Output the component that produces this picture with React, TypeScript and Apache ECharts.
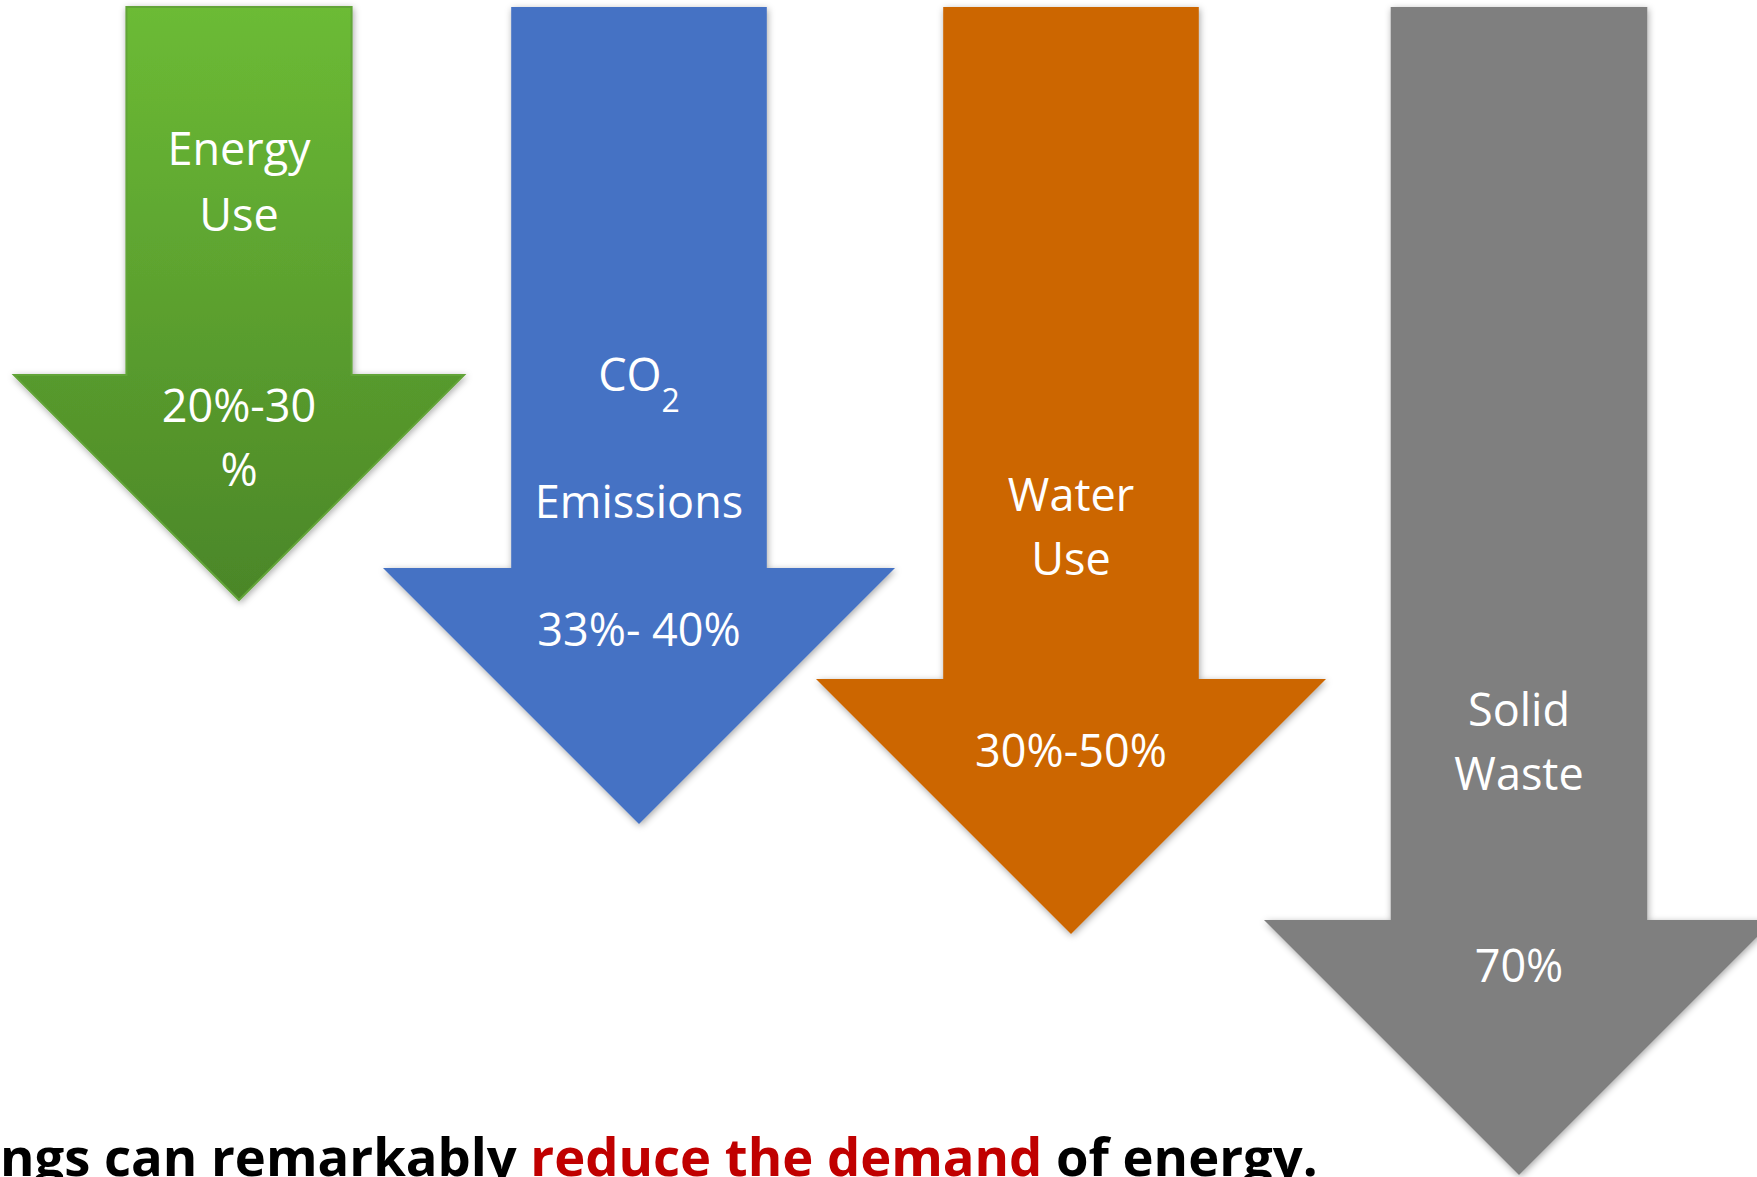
import { useEffect, useRef } from "react";
import * as echarts from "echarts";

const PAGE_W = 1757;
const PAGE_H = 1177;

// What each arrow stands for and how much it drops
const measures = ["Energy Use", "CO2 Emissions", "Water Use", "Solid Waste"];
const titleLines = [["Energy", "Use"], ["CO{sub|2}", "Emissions"], ["Water", "Use"], ["Solid", "Waste"]];
const savingLines = [["20%-30", "%"], ["33%- 40%"], ["30%-50%"], ["70%"]];
// how far down the page each arrow reaches (y-axis units, axis runs top to bottom)
const arrowReach = [600, 824, 934, 1175];

const captionPlain1 = "ngs can remarkably ";
const captionRed = "reduce the demand";
const captionPlain2 = " of energy.";

// Layout of the arrows on the value axes
const arrowCenter = [239, 639, 1071, 1519];
const shaftTop = 7;
const shaftHalf = [112.6, 127.8, 127.8, 128.3];
const headTop = [375, 568, 679, 920];
const titleY = [[148, 214], [374.5, 501.6], [494, 558], [709, 773]];
const savingY = [[405, 469], [629.5], [750], [965]];

const LABEL_FONT = '"Open Sans", "Noto Sans", sans-serif';
const LABEL_SIZE = 45;

const arrowFills: any[] = [
  new echarts.graphic.LinearGradient(0, 0, 0, 1, [
    { offset: 0, color: "#6CBB35" },
    { offset: 1, color: "#4B8628" },
  ]),
  "#4472C4",
  "#CC6600",
  "#7F7F7F",
];
const arrowStrokes = ["#62A438", "#4472C4", "#CC6600", "#7F7F7F"];

function captionFontSize(targetWidth: number): number {
  const canvas = document.createElement("canvas");
  const ctx = canvas.getContext("2d");
  if (!ctx) return 52;
  ctx.font = `bold 100px ${LABEL_FONT}`;
  const w = ctx.measureText(captionPlain1 + captionRed + captionPlain2).width;
  return w > 0 ? (100 * targetWidth) / w : 52;
}

export default function App() {
  const ref = useRef<HTMLDivElement>(null);

  useEffect(() => {
    const el = ref.current;
    if (!el) return;
    const chart = echarts.init(el, null, { renderer: "svg" });

    const capSize = captionFontSize(1318);
    // x-height top sits near 1147; central baseline is ~0.157em below it for Open Sans
    const capY = 1147 + 0.157 * capSize;

    const textStyle = (text: string, x: number, y: number) => ({
      type: "text",
      style: {
        text,
        x,
        y,
        align: "center",
        verticalAlign: "middle",
        fill: "#FFFFFF",
        fontFamily: LABEL_FONT,
        fontSize: LABEL_SIZE,
        lineHeight: 84,
        rich: {
          sub: {
            fill: "#FFFFFF",
            fontFamily: LABEL_FONT,
            fontSize: 32,
            lineHeight: 32,
            verticalAlign: "bottom",
          },
        },
      },
    });

    const option: any = {
      animation: false,
      backgroundColor: "#FFFFFF",
      grid: { left: 0, right: 0, top: 0, bottom: 0, containLabel: false },
      xAxis: { type: "value", min: 0, max: PAGE_W, show: false },
      yAxis: { type: "value", min: 0, max: PAGE_H, inverse: true, show: false },
      series: [
        {
          type: "custom",
          clip: true,
          data: arrowCenter.map((c, i) => ({ name: measures[i], value: [c, arrowReach[i]] })),
          renderItem: (params: any, api: any) => {
            const i = params.dataIndex;
            const [x, tip] = api.coord([api.value(0), api.value(1)]);
            const top = api.coord([api.value(0), shaftTop])[1];
            const head = api.coord([api.value(0), headTop[i]])[1];
            const sx = api.size([shaftHalf[i], 0])[0];
            const hw = tip - head;
            const points = [
              [x - sx, top],
              [x + sx, top],
              [x + sx, head],
              [x + hw, head],
              [x, tip],
              [x - hw, head],
              [x - sx, head],
            ];
            const children: any[] = [
              {
                type: "polygon",
                shape: { points },
                style: {
                  fill: arrowFills[i],
                  stroke: arrowStrokes[i],
                  lineWidth: i === 0 ? 2 : 0,
                  shadowBlur: 7,
                  shadowOffsetX: 1,
                  shadowOffsetY: 2,
                  shadowColor: "rgba(0,0,0,0.35)",
                },
              },
            ];
            titleLines[i].forEach((t, k) => {
              children.push(textStyle(t, x, api.coord([0, titleY[i][k]])[1] - 1));
            });
            savingLines[i].forEach((t, k) => {
              children.push(textStyle(t, x, api.coord([0, savingY[i][k]])[1] - 1));
            });
            return { type: "group", children };
          },
        },
      ],
      graphic: [
        {
          type: "text",
          left: 0,
          style: {
            text: `${captionPlain1}{r|${captionRed}}${captionPlain2}`,
            x: 0,
            y: capY,
            align: "left",
            verticalAlign: "middle",
            fill: "#000000",
            fontFamily: LABEL_FONT,
            fontWeight: "bold",
            fontSize: capSize,
            rich: {
              r: {
                fill: "#C00000",
                fontFamily: LABEL_FONT,
                fontWeight: "bold",
                fontSize: capSize,
              },
            },
          },
        },
      ],
    };

    chart.setOption(option);
    return () => chart.dispose();
  }, []);

  return (
    <div
      ref={ref}
      style={{
        position: "absolute",
        left: 0,
        top: 0,
        width: PAGE_W,
        height: PAGE_H,
        background: "#FFFFFF",
        overflow: "hidden",
      }}
    />
  );
}
